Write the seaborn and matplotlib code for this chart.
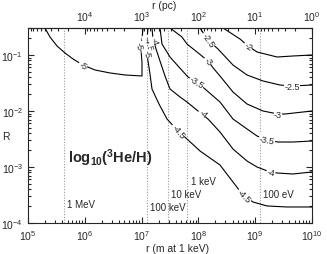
import numpy as np
import matplotlib
matplotlib.use('Agg')
import matplotlib.pyplot as plt
import seaborn as sns

# contour lines of log10(3He/H)
# x: log10 r (m at 1 keV), y: log10 R
c50_logr = [5.299, 5.387, 5.511, 5.651, 5.792, 5.968, 6.180, 6.444, 6.708, 7.007, 7.007, 6.989, 7.007, 7.025]
c50_logR = [-0.518, -0.679, -0.839, -0.964, -1.071, -1.179, -1.268, -1.321, -1.357, -1.375, -1.125, -0.893, -0.714, -0.518]

c45_logr = [7.113, 7.095, 7.077, 7.113, 7.148, 7.183, 7.306, 7.447, 7.641, 7.799, 8.028, 8.380, 8.609, 8.785, 8.961, 9.208, 9.560, 10.0]
c45_logR = [-0.518, -0.714, -0.893, -1.107, -1.339, -1.607, -1.875, -2.143, -2.357, -2.5, -2.714, -2.964, -3.268, -3.5, -3.625, -3.696, -3.714, -3.714]

c40_logr = [7.183, 7.201, 7.254, 7.324, 7.412, 7.500, 7.676, 7.799, 7.993, 8.169, 8.380, 8.609, 8.856, 9.032, 9.261, 9.384, 9.665, 10.0]
c40_logR = [-0.518, -0.714, -0.893, -1.107, -1.375, -1.607, -1.75, -1.839, -2.0, -2.143, -2.375, -2.679, -2.893, -3.0, -3.089, -3.107, -3.125, -3.089]

c35_logr = [7.324, 7.359, 7.500, 7.641, 7.817, 7.975, 8.116, 8.380, 8.609, 8.856, 9.032, 9.208, 9.401, 9.665, 10.0]
c35_logR = [-0.518, -0.804, -1.036, -1.196, -1.393, -1.482, -1.607, -1.839, -2.143, -2.321, -2.446, -2.518, -2.554, -2.554, -2.536]

c30_logr = [7.500, 7.711, 7.799, 7.975, 8.169, 8.275, 8.380, 8.609, 8.856, 9.137, 9.401, 9.525, 10.0]
c30_logR = [-0.518, -0.679, -0.804, -0.946, -1.107, -1.25, -1.375, -1.661, -1.875, -2.0, -2.054, -2.054, -2.0]

c25_logr = [8.028, 8.169, 8.345, 8.609, 8.856, 9.137, 9.437, 9.648, 10.0]
c25_logR = [-0.518, -0.732, -0.893, -1.179, -1.357, -1.464, -1.536, -1.554, -1.536]

c20_logr = [8.433, 8.732, 8.873, 9.032, 9.384, 9.665, 10.0]
c20_logR = [-0.518, -0.714, -0.839, -0.946, -1.036, -1.018, -1.0]

# inline contour labels: text, log10 r, log10 R
clabel_text = ['-5', '-5', '-4.5', '-4', '-5', '-4.5', '-4.5', '-4', '-4',
               '-3.5', '-3.5', '-3', '-3', '-2.5', '-2.5', '-2']
clabel_logr = [5.968, 6.954, 7.113, 7.218, 7.095, 7.641, 8.803, 8.081, 9.278,
               7.975, 9.208, 8.169, 9.401, 8.169, 9.648, 8.873]
clabel_logR = [-1.179, -0.839, -0.786, -0.75, -0.982, -2.357, -3.518, -2.036, -3.089,
               -1.482, -2.518, -1.107, -2.054, -0.732, -1.554, -0.839]
clabel_rot = [-25, -80, -75, -70, -80, -50, -45, -38, -10,
              -32, -10, -45, 0, -55, 0, -35]

# temperature markers
energy_labels = ['1 MeV', '100 keV', '10 keV', '1 keV', '100 eV']
energy_logr = [5.634, 7.095, 7.465, 7.80, 9.085]
energy_label_logR = [-3.66, -3.714, -3.482, -3.25, -3.482]

# top axis ticks, r in pc
pc_ticks = [1e4, 1e3, 1e2, 1e1, 1e0]

sns.set_style('ticks')
plt.rcParams['font.family'] = ['Liberation Sans', 'DejaVu Sans']
plt.rcParams['mathtext.fontset'] = 'custom'
plt.rcParams['mathtext.rm'] = 'Liberation Sans'
plt.rcParams['mathtext.it'] = 'Liberation Sans:italic'
plt.rcParams['mathtext.bf'] = 'Liberation Sans:bold'

fig = plt.figure(figsize=(3.27, 2.55), dpi=100)
ax = fig.add_axes([0.0856, 0.1216, 0.8685, 0.7647])
ax.set_xscale('log')
ax.set_yscale('log')

contours = [(c50_logr, c50_logR), (c45_logr, c45_logR), (c40_logr, c40_logR),
            (c35_logr, c35_logR), (c30_logr, c30_logR), (c25_logr, c25_logR),
            (c20_logr, c20_logR)]
for lr, lR in contours:
    sns.lineplot(x=10 ** np.array(lr), y=10 ** np.array(lR), ax=ax, sort=False,
                 estimator=None, color='black', linewidth=0.8)

for t, lr, lR, rot in zip(clabel_text, clabel_logr, clabel_logR, clabel_rot):
    ax.text(10 ** lr, 10 ** lR, t, fontsize=6.5, rotation=rot, ha='center', va='center',
            rotation_mode='anchor', zorder=5,
            bbox=dict(boxstyle='square,pad=0.05', fc='white', ec='none'))

for lab, lr, lR in zip(energy_labels, energy_logr, energy_label_logR):
    ax.axvline(10 ** lr, color='#9a9a9a', linestyle=(0, (1, 1.5)), linewidth=0.8, zorder=1)
    ax.annotate(lab, (10 ** lr, 10 ** lR), xytext=(2.5, 0), textcoords='offset points',
                ha='left', va='center', fontsize=7)

ax.text(0.141, 0.338, r'$\mathbf{log_{10}(^{3}He/H)}$', transform=ax.transAxes,
        fontsize=10.5, ha='left', va='center')

ax.set_xlim(1e5, 1e10)
ax.set_ylim(1e-4, 10 ** -0.518)
ax.set_xlabel('r (m at 1 keV)', fontsize=7.5)
ax.xaxis.set_label_coords(0.525, -0.105)
ax.set_ylabel('R', fontsize=7.5, rotation=0, ha='center', va='center')
ax.yaxis.set_label_coords(-0.077, 0.446)


def to_pc(x):
    x = np.asarray(x, dtype=float)
    return 1e10 / np.where(x == 0, 1e-300, x)


sec = ax.secondary_xaxis('top', functions=(to_pc, to_pc))
sec.set_xticks(pc_ticks)
sec.set_xlabel('r (pc)', fontsize=7.5, labelpad=1)
sec.xaxis.label.set_x(0.48)

ax.tick_params(which='both', direction='in', labelsize=7.5, right=True, top=False, width=0.8)
ax.tick_params(which='major', length=4.5)
ax.tick_params(which='minor', length=2.5)
sec.tick_params(which='both', direction='in', labelsize=7.5, width=0.8)
sec.tick_params(which='major', length=4.5)
sec.tick_params(which='minor', length=2.5)
for s in ax.spines.values():
    s.set_linewidth(0.8)
sec.spines['top'].set_linewidth(0.8)

fig.savefig('out.png', dpi=100, facecolor='white')
